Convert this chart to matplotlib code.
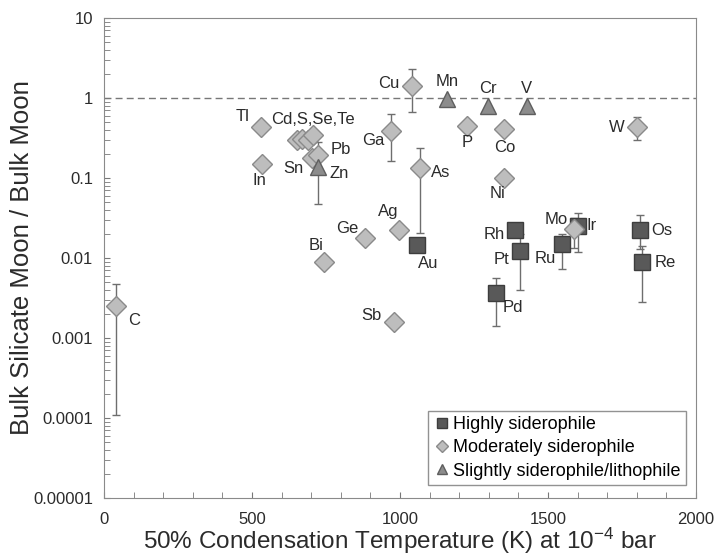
import numpy as np
import matplotlib.pyplot as plt
from matplotlib.ticker import FixedLocator, NullFormatter

plt.rcParams['font.family'] = ['Liberation Sans', 'DejaVu Sans']
plt.rcParams['mathtext.fontset'] = 'custom'
plt.rcParams['mathtext.rm'] = 'Liberation Sans'
plt.rcParams['mathtext.default'] = 'regular'

# highly siderophile
hs_names = ['Au', 'Rh', 'Pt', 'Pd', 'Ru', 'Ir', 'Os', 'Re']
hs_t = [1059, 1389, 1405, 1323, 1549, 1600, 1811, 1819]
hs_v = [0.0145, 0.0224, 0.0122, 0.0036, 0.015, 0.025, 0.0224, 0.0088]
hs_lo = [np.nan, np.nan, 0.0040, 0.0014, 0.0073, 0.0118, 0.013, 0.0028]
hs_hi = [np.nan, np.nan, 0.020, 0.0057, 0.020, 0.037, 0.034, 0.014]

# moderately siderophile
ms_names = ['C', 'Tl', 'In', 'Cd', 'S', 'Se', 'Te', 'Sn', 'Pb', 'Bi', 'Ge', 'Sb',
            'Ga', 'Ag', 'Cu', 'As', 'P', 'Co', 'Ni', 'Mo', 'W']
ms_t = [40, 530, 535, 651, 668, 690, 707, 701, 724, 744, 882, 979,
        968, 996, 1039, 1068, 1228, 1353, 1353, 1589, 1800]
ms_v = [0.0025, 0.43, 0.148, 0.30, 0.31, 0.30, 0.345, 0.176, 0.194, 0.0088, 0.0176, 0.0016,
        0.387, 0.0224, 1.43, 0.132, 0.447, 0.41, 0.10, 0.023, 0.43]
ms_lo = [0.00011, np.nan, np.nan, np.nan, np.nan, np.nan, np.nan, np.nan, np.nan, np.nan, np.nan, np.nan,
         0.165, np.nan, 0.66, 0.0205, np.nan, np.nan, np.nan, 0.0133, 0.30]
ms_hi = [0.0047, np.nan, np.nan, np.nan, np.nan, np.nan, np.nan, np.nan, np.nan, np.nan, np.nan, np.nan,
         0.63, np.nan, 2.3, 0.24, np.nan, np.nan, np.nan, 0.032, 0.58]

# slightly siderophile / lithophile
ss_names = ['Zn', 'Mn', 'Cr', 'V']
ss_t = [724, 1158, 1296, 1428]
ss_v = [0.139, 0.96, 0.79, 0.79]
ss_lo = [0.047, np.nan, np.nan, np.nan]
ss_hi = [0.28, np.nan, np.nan, np.nan]

# label text and offsets (pixels)
labels = {
    'Tl': ('Tl', -11, 11, 'right'), 'Cd': ('Cd,S,Se,Te', -26, 20, 'left'),
    'In': ('In', -3, -16, 'center'), 'Sn': ('Sn', -8, -10, 'right'),
    'Pb': ('Pb', 12, 5, 'left'), 'Zn': ('Zn', 11, -7, 'left'),
    'Cu': ('Cu', -12, 2, 'right'), 'Mn': ('Mn', 0, 18, 'center'),
    'Cr': ('Cr', 0, 18, 'center'), 'V': ('V', 0, 18, 'center'),
    'Ga': ('Ga', -6, -10, 'right'), 'P': ('P', 0, -17, 'center'),
    'Co': ('Co', 0, -19, 'center'), 'As': ('As', 11, -4, 'left'),
    'Ni': ('Ni', -7, -16, 'center'), 'Ag': ('Ag', -11, 18, 'center'),
    'Ge': ('Ge', -7, 10, 'right'), 'Bi': ('Bi', -8, 17, 'center'),
    'Au': ('Au', 11, -18, 'center'), 'Sb': ('Sb', -12, 6, 'right'),
    'Rh': ('Rh', -10, -5, 'right'), 'Pt': ('Pt', -11, -8, 'right'),
    'Pd': ('Pd', 7, -14, 'left'), 'Ru': ('Ru', -6, -15, 'right'),
    'Mo': ('Mo', -6, 10, 'right'), 'Ir': ('Ir', 9, 1, 'left'),
    'Os': ('Os', 11, -1, 'left'), 'Re': ('Re', 12, 0, 'left'),
    'W': ('W', -12, 0, 'right'), 'C': ('C', 12, -14, 'left'),
}

fig, ax = plt.subplots(figsize=(7.15, 5.55), dpi=100)
fig.subplots_adjust(left=0.1455, right=0.9734, top=0.9676, bottom=0.1027)

ax.axhline(1, color='#777777', lw=1, ls=(0, (5, 3)), zorder=1)

groups = [
    (hs_t, hs_v, hs_lo, hs_hi, 's', 12, '#595959', '#3d3d3d', 'Highly siderophile'),
    (ms_t, ms_v, ms_lo, ms_hi, 'D', 10, '#bdbdbd', '#8a8a8a', 'Moderately siderophile'),
    (ss_t, ss_v, ss_lo, ss_hi, '^', 12, '#8c8c8c', '#5e5e5e', 'Slightly siderophile/lithophile'),
]
for t, v, lo, hi, m, ms, fc, ec, lab in groups:
    t = np.array(t, float); v = np.array(v); lo = np.array(lo); hi = np.array(hi)
    ok = ~np.isnan(lo)
    ax.errorbar(t[ok], v[ok], yerr=[v[ok] - lo[ok], hi[ok] - v[ok]], fmt='none',
                ecolor='#6e6e6e', elinewidth=1, capsize=3, capthick=1, zorder=2)
    ax.plot(t, v, ls='none', marker=m, ms=ms, mfc=fc, mec=ec, mew=1, zorder=3, label=lab)

for names, t, v in [(hs_names, hs_t, hs_v), (ms_names, ms_t, ms_v), (ss_names, ss_t, ss_v)]:
    for n, x, y in zip(names, t, v):
        if n not in labels:
            continue
        txt, dx, dy, ha = labels[n]
        ax.annotate(txt, (x, y), xytext=(dx, dy), textcoords='offset pixels',
                    ha=ha, va='center', fontsize=12, color='#2b2b2b')

ax.set_yscale('log')
ax.set_xlim(0, 2000)
ax.set_ylim(1e-5, 10)
ax.set_xticks([0, 500, 1000, 1500, 2000])
ax.xaxis.set_minor_locator(FixedLocator(np.arange(0, 2001, 100)))
ax.set_yticks([1e-5, 1e-4, 1e-3, 1e-2, 1e-1, 1, 10])
ax.set_yticklabels(['0.00001', '0.0001', '0.001', '0.01', '0.1', '1', '10'])
ax.yaxis.set_minor_formatter(NullFormatter())
ax.tick_params(which='both', direction='in', length=4, color='#777777', labelsize=12,
               labelcolor='#2b2b2b')
ax.tick_params(axis='x', pad=10)
ax.tick_params(axis='y', pad=8)
for s in ax.spines.values():
    s.set_color('#8a8a8a')

ax.set_xlabel('50% Condensation Temperature (K) at 10$^{-4}$ bar', fontsize=17.5, color='#2b2b2b')
ax.xaxis.set_label_coords(0.5, -(541 - 498) / 480)
ax.xaxis.label.set_va('center')
ax.set_ylabel('Bulk Silicate Moon / Bulk Moon', fontsize=18.5, color='#2b2b2b')
ax.yaxis.set_label_coords(-(104 - 22) / 592, 0.5)
ax.yaxis.label.set_va('center')

leg = ax.legend(loc='lower right', bbox_to_anchor=(0.983, 0.027), fontsize=13, frameon=True,
                fancybox=False, edgecolor='#777777', handletextpad=0.1, handlelength=1.0,
                markerscale=0.6, borderpad=0.3, labelspacing=0.35, borderaxespad=0)
leg.get_frame().set_linewidth(1)

fig.savefig('out.png', dpi=100)
